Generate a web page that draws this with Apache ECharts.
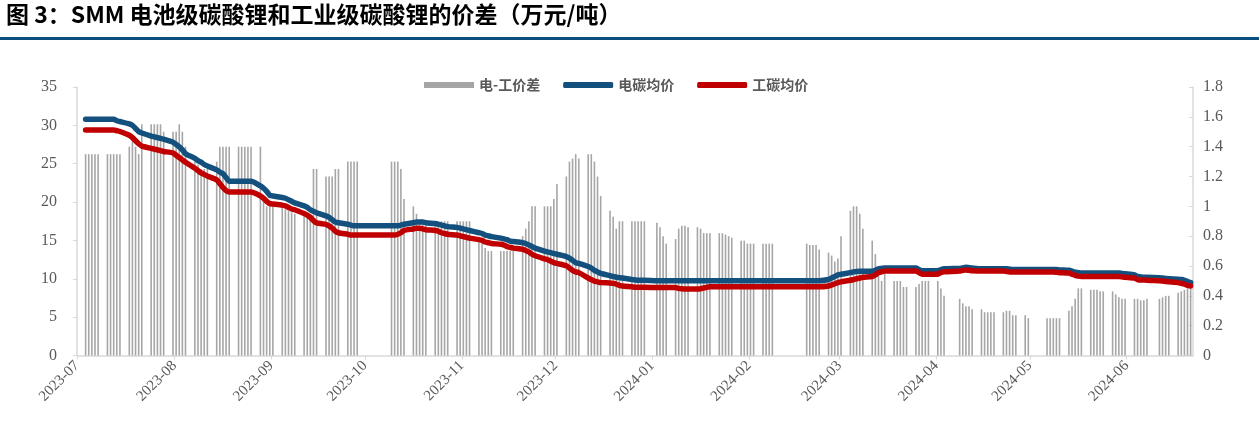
<!DOCTYPE html>
<html>
<head>
<meta charset="utf-8">
<script src="https://cdn.jsdelivr.net/npm/echarts@6/dist/echarts.min.js"></script>
<style>
html,body{margin:0;padding:0;background:#fff;}
#chart{width:1259px;height:431px;}
</style>
</head>
<body>
<div id="chart"></div>
<script>
// Monday of each trading week; each week row holds Mon..Fri (null = no quote / holiday)
const weekStarts = ['2023-07-03','2023-07-10','2023-07-17','2023-07-24','2023-07-31',
  '2023-08-07','2023-08-14','2023-08-21','2023-08-28',
  '2023-09-04','2023-09-11','2023-09-18','2023-09-25',
  '2023-10-02','2023-10-09','2023-10-16','2023-10-23','2023-10-30',
  '2023-11-06','2023-11-13','2023-11-20','2023-11-27',
  '2023-12-04','2023-12-11','2023-12-18','2023-12-25',
  '2024-01-01','2024-01-08','2024-01-15','2024-01-22','2024-01-29',
  '2024-02-05','2024-02-12','2024-02-19','2024-02-26',
  '2024-03-04','2024-03-11','2024-03-18','2024-03-25',
  '2024-04-01','2024-04-08','2024-04-15','2024-04-22','2024-04-29',
  '2024-05-06','2024-05-13','2024-05-20','2024-05-27',
  '2024-06-03','2024-06-10','2024-06-17'];

// 电-工价差 (right axis)
const spread = [
  [1.35,1.35,1.35,1.35,1.35],[1.35,1.35,1.35,1.35,1.35],[1.40,1.44,1.40,1.35,1.55],[1.55,1.55,1.55,1.55,1.50],[1.50,1.50,1.55,1.50,1.40],
  [1.30,1.28,1.25,1.25,1.25],[1.30,1.40,1.40,1.40,1.40],[1.40,1.40,1.40,1.40,1.40],[1.40,1.05,1.00,1.00,1.00],
  [1.00,0.98,0.97,0.96,0.95],[0.95,0.95,0.95,1.25,1.25],[1.20,1.20,1.20,1.25,1.25],[1.30,1.30,1.30,1.30,null],
  [null,null,null,null,null],[1.30,1.30,1.30,1.25,1.05],[1.00,0.95,0.90,0.90,0.90],[0.90,0.90,0.90,0.90,0.90],[0.90,0.90,0.90,0.90,0.90],
  [0.77,0.75,0.72,0.70,0.70],[0.70,0.70,0.70,0.70,0.70],[0.80,0.85,0.90,1.00,1.00],[1.00,1.00,1.00,1.05,1.15],
  [1.20,1.30,1.32,1.35,1.32],[1.35,1.35,1.30,1.20,1.07],[0.97,0.93,0.85,0.90,0.90],[0.90,0.90,0.90,0.90,0.90],
  [null,0.89,0.86,0.80,0.75],[0.78,0.85,0.87,0.87,0.86],[0.86,0.85,0.82,0.82,0.82],[0.82,0.82,0.81,0.80,0.79],[0.77,0.77,0.75,0.75,0.75],
  [0.75,0.75,0.75,0.75,null],[null,null,null,null,null],[0.75,0.74,0.74,0.74,0.71],[0.69,0.67,0.63,0.65,0.80],
  [0.97,1.00,1.00,0.95,0.85],[0.77,0.68,0.59,0.50,0.55],[0.50,0.50,0.50,0.46,0.46],[0.46,0.48,0.50,0.50,0.50],
  [0.50,0.45,0.40,null,null],[0.38,0.35,0.33,0.33,0.31],[0.31,0.29,0.29,0.29,0.29],[0.29,0.30,0.30,0.27,0.27],[0.27,0.25,null,null,null],
  [0.25,0.25,0.25,0.25,0.25],[0.30,0.33,0.38,0.45,0.45],[0.44,0.44,0.44,0.43,0.43],[0.43,0.41,0.39,0.38,0.38],
  [0.38,0.38,0.37,0.37,0.38],[null,0.38,0.39,0.40,0.40],[0.42,0.43,0.44,0.45,0.45]
];

// 电碳均价 (left axis)
const batteryPrice = [
  [30.8,30.8,30.8,30.8,30.8],[30.8,30.8,30.8,30.6,30.5],[30.2,30.0,29.6,29.2,29.0],[28.6,28.5,28.4,28.3,28.2],[27.8,27.5,27.2,26.8,26.3],
  [25.7,25.4,25.2,24.9,24.7],[24.2,23.9,23.7,23.2,22.7],[22.7,22.7,22.7,22.7,22.7],[22.1,21.8,21.4,20.9,20.8],
  [20.6,20.5,20.3,20.1,19.9],[19.5,19.3,19.0,18.8,18.6],[18.2,18.0,17.7,17.4,17.3],[17.1,17.0,16.9,16.9,null],
  [null,null,null,null,null],[16.9,16.9,16.9,17.0,17.1],[17.3,17.4,17.4,17.4,17.3],[17.2,17.1,17.0,16.9,16.8],[16.7,16.6,16.5,16.4,16.3],
  [16.0,15.9,15.7,15.6,15.5],[15.3,15.2,15.1,14.9,14.85],[14.7,14.6,14.4,14.2,14.0],[13.6,13.5,13.4,13.3,13.2],
  [12.9,12.7,12.4,12.1,12.0],[11.6,11.4,11.1,10.9,10.7],[10.4,10.3,10.2,10.15,10.1],[9.9,9.85,9.8,9.8,9.8],
  [null,9.75,9.75,9.75,9.75],[9.75,9.75,9.75,9.75,9.75],[9.75,9.75,9.75,9.75,9.75],[9.75,9.75,9.75,9.75,9.75],[9.75,9.75,9.75,9.75,9.75],
  [9.75,9.75,9.75,9.75,null],[null,null,null,null,null],[9.75,9.75,9.75,9.75,9.75],[9.9,10.1,10.3,10.5,10.6],
  [10.8,10.9,10.95,10.97,10.97],[10.97,11.1,11.3,11.35,11.4],[11.4,11.4,11.4,11.4,11.4],[11.4,11.2,11.06,11.06,11.06],
  [11.06,11.2,11.3,null,null],[11.35,11.4,11.5,11.45,11.4],[11.3,11.3,11.3,11.3,11.3],[11.3,11.3,11.25,11.2,11.2],[11.2,11.2,null,null,null],
  [11.2,11.2,11.2,11.2,11.15],[11.1,11.0,10.85,10.8,10.75],[10.75,10.75,10.75,10.75,10.75],[10.75,10.75,10.75,10.7,10.65],
  [10.5,10.3,10.25,10.2,10.2],[null,10.15,10.1,10.05,10.0],[9.95,9.9,9.8,9.65,9.5]
];

// 工碳均价 (left axis)
const industrialPrice = [
  [29.4,29.4,29.4,29.4,29.4],[29.4,29.4,29.4,29.3,29.2],[28.7,28.4,28.0,27.6,27.3],[27.0,26.9,26.8,26.7,26.6],[26.4,26.1,25.8,25.5,25.2],
  [24.4,24.1,23.8,23.6,23.4],[22.9,22.4,21.9,21.5,21.3],[21.3,21.3,21.3,21.3,21.3],[20.8,20.5,20.1,19.8,19.75],
  [19.6,19.5,19.3,19.1,19.0],[18.5,18.3,18.0,17.6,17.3],[17.1,16.9,16.6,16.2,16.0],[15.8,15.7,15.7,15.7,null],
  [null,null,null,null,null],[15.7,15.7,15.8,16.0,16.3],[16.5,16.6,16.6,16.5,16.4],[16.3,16.2,16.0,15.9,15.8],[15.7,15.6,15.5,15.4,15.3],
  [15.1,15.0,14.8,14.7,14.6],[14.5,14.4,14.2,14.1,14.0],[13.85,13.7,13.5,13.2,13.0],[12.6,12.5,12.3,12.1,12.0],
  [11.7,11.4,11.1,10.9,10.8],[10.1,9.9,9.7,9.6,9.5],[9.45,9.4,9.3,9.15,9.06],[8.95,8.9,8.9,8.9,8.9],
  [null,8.85,8.85,8.85,8.85],[8.85,8.75,8.7,8.67,8.67],[8.67,8.7,8.8,8.9,8.95],[8.95,8.95,8.95,8.95,8.95],[8.95,8.95,8.95,8.95,8.95],
  [8.95,8.95,8.95,8.95,null],[null,null,null,null,null],[8.95,8.95,8.95,8.95,8.95],[9.06,9.2,9.35,9.5,9.6],
  [9.8,9.9,10.0,10.1,10.2],[10.3,10.5,10.8,10.9,11.0],[11.0,11.0,11.0,11.0,11.0],[11.0,10.8,10.6,10.6,10.6],
  [10.6,10.8,10.9,null,null],[11.0,11.1,11.15,11.1,11.05],[11.0,11.0,11.0,11.0,11.0],[11.0,10.95,10.9,10.9,10.9],[10.9,10.9,null,null,null],
  [10.9,10.9,10.9,10.85,10.8],[10.75,10.6,10.45,10.35,10.3],[10.3,10.3,10.3,10.3,10.3],[10.3,10.3,10.3,10.25,10.2],
  [10.1,9.9,9.85,9.85,9.8],[null,9.75,9.7,9.65,9.6],[9.5,9.4,9.3,9.15,9.06]
];

const leftTicks = {min: 0, max: 35, interval: 5};
const rightTicks = {min: 0, max: 1.8, interval: 0.2};
const axisStart = '2023-07-01', axisEnd = '2024-06-22';

const DAY = 86400000;
function toSeries(rows) {
  const out = [];
  rows.forEach((row, i) => {
    const base = Date.parse(weekStarts[i] + 'T00:00:00Z');
    row.forEach((v, k) => { if (v !== null) out.push([base + k * DAY + DAY / 2, v]); });
  });
  return out;
}
function monthLabel(v) {
  const d = new Date(v + DAY / 2);
  const m = d.getUTCMonth() + 1;
  return d.getUTCFullYear() + '-' + (m < 10 ? '0' + m : m);
}

const chart = echarts.init(document.getElementById('chart'));
const axisColor = '#d9d9d9';
const labelColor = '#595959';
const numFont = 'Liberation Serif';
chart.setOption({
  useUTC: true,
  animation: false,
  backgroundColor: '#fff',
  graphic: [
    {type: 'text', left: 6, top: 3, style: {text: '图 3：SMM 电池级碳酸锂和工业级碳酸锂的价差（万元/吨）', font: 'bold 23px "Noto Sans CJK SC"', fill: '#000'}},
    {type: 'rect', left: 0, top: 37, shape: {width: 1259, height: 3}, style: {fill: '#0b4f80'}}
  ],
  legend: {
    left: 419, top: 73, itemGap: 23, itemWidth: 50, itemHeight: 6,
    textStyle: {fontSize: 14, fontWeight: 'bold', color: labelColor, fontFamily: 'Noto Sans CJK SC'},
    data: [{name: '电-工价差', icon: 'rect'}, {name: '电碳均价', icon: 'roundRect'}, {name: '工碳均价', icon: 'roundRect'}]
  },
  grid: {left: 77, right: 66, top: 87, bottom: 75.5, containLabel: false},
  xAxis: {
    type: 'time',
    min: Date.parse(axisStart + 'T00:00:00Z'),
    max: Date.parse(axisEnd + 'T00:00:00Z'),
    splitNumber: 12,
    minInterval: 28 * DAY,
    maxInterval: 31 * DAY,
    axisLine: {lineStyle: {color: axisColor, width: 1.5}},
    axisTick: {show: true, length: 4, lineStyle: {color: axisColor}},
    splitLine: {show: false},
    axisLabel: {formatter: monthLabel, rotate: 45, color: labelColor, fontSize: 15, fontFamily: numFont, margin: 8, showMinLabel: true, showMaxLabel: false, hideOverlap: false}
  },
  yAxis: [
    {type: 'value', min: leftTicks.min, max: leftTicks.max, interval: leftTicks.interval,
     axisLine: {show: true, lineStyle: {color: axisColor, width: 1.5}},
     axisTick: {show: true, length: 4, lineStyle: {color: axisColor}},
     splitLine: {show: false},
     axisLabel: {color: labelColor, fontSize: 16, fontFamily: numFont, margin: 20}},
    {type: 'value', min: rightTicks.min, max: rightTicks.max, interval: rightTicks.interval,
     axisLine: {show: true, lineStyle: {color: axisColor, width: 1.5}},
     axisTick: {show: true, inside: true, length: 4, lineStyle: {color: axisColor}},
     splitLine: {show: false},
     axisLabel: {color: labelColor, fontSize: 16, fontFamily: numFont, margin: 10}}
  ],
  series: [
    {name: '电-工价差', type: 'bar', yAxisIndex: 1, barWidth: 1.6, itemStyle: {color: '#a6a6a6'}, data: toSeries(spread)},
    {name: '电碳均价', type: 'line', yAxisIndex: 0, symbol: 'none', connectNulls: true, smooth: 0.2,
     lineStyle: {width: 5.5, color: '#13507d', cap: 'round'}, itemStyle: {color: '#13507d'}, data: toSeries(batteryPrice)},
    {name: '工碳均价', type: 'line', yAxisIndex: 0, symbol: 'none', connectNulls: true, smooth: 0.2,
     lineStyle: {width: 5.5, color: '#c00000', cap: 'round'}, itemStyle: {color: '#c00000'}, data: toSeries(industrialPrice)}
  ]
});
</script>
</body>
</html>
